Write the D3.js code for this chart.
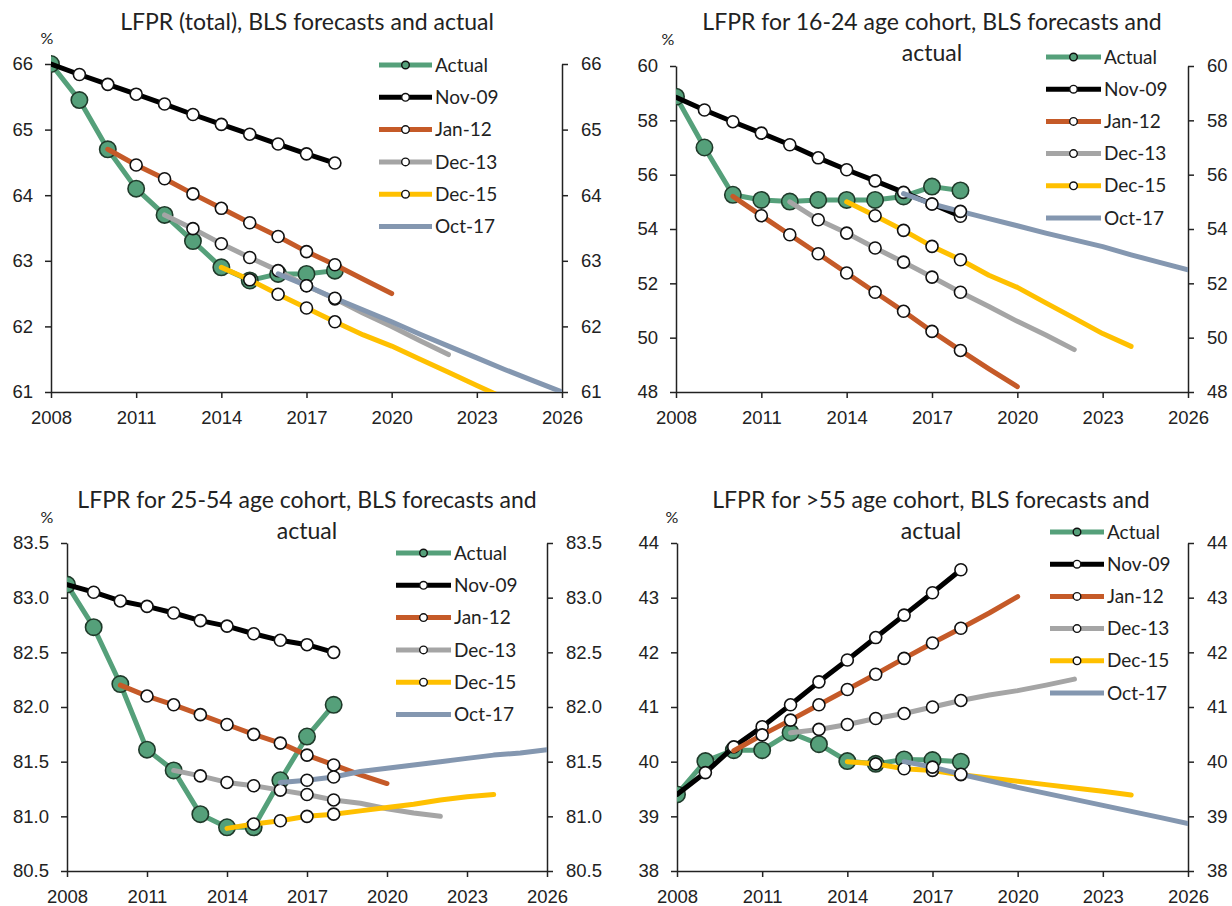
<!DOCTYPE html>
<html>
<head>
<meta charset="utf-8">
<script src="https://cdn.jsdelivr.net/npm/d3@7"></script>
<style>
  body { margin: 0; background: #fff; }
  svg { font-family: Lato, "Open Sans", sans-serif; }
  .tick text { fill: #222; }
</style>
</head>
<body>
<svg id="chart" width="1232" height="906"></svg>
<script>
// series order, start year of each series, colours
const seriesNames = ["Actual", "Nov-09", "Jan-12", "Dec-13", "Dec-15", "Oct-17"];
const seriesStart = [2008, 2008, 2010, 2012, 2014, 2016];
const seriesColors = ["#55a07a", "#000000", "#c55a28", "#a5a5a5", "#ffc000", "#8497b0"];
const lastMarkerYear = 2018;
const yearTicks = [2008, 2011, 2014, 2017, 2020, 2023, 2026];

// LFPR total
const totalActual = [66.0, 65.45, 64.7, 64.1, 63.7, 63.3, 62.9, 62.7, 62.8, 62.8, 62.85];
const totalNov09 = [66.0, 65.84, 65.69, 65.54, 65.39, 65.23, 65.08, 64.93, 64.78, 64.63, 64.49];
const totalJan12 = [64.7, 64.46, 64.25, 64.02, 63.8, 63.58, 63.37, 63.14, 62.94, 62.72, 62.5];
const totalDec13 = [63.7, 63.49, 63.26, 63.05, 62.85, 62.62, 62.42, 62.2, 62.0, 61.78, 61.57];
const totalDec15 = [62.9, 62.71, 62.49, 62.28, 62.07, 61.87, 61.7, 61.5, 61.3, 61.1, 60.9];
const totalOct17 = [62.8, 62.62, 62.43, 62.25, 62.07, 61.88, 61.7, 61.52, 61.34, 61.17, 61.0];
const totalTicks = [61, 62, 63, 64, 65, 66];

// 16-24
const y16Actual = [58.87, 57.0, 55.26, 55.07, 55.01, 55.07, 55.07, 55.07, 55.2, 55.56, 55.42];
const y16Nov09 = [58.85, 58.38, 57.95, 57.53, 57.1, 56.62, 56.18, 55.77, 55.35, 54.92, 54.47];
const y16Jan12 = [55.2, 54.49, 53.79, 53.09, 52.38, 51.67, 50.97, 50.23, 49.53, 48.85, 48.2];
const y16Dec13 = [55.0, 54.34, 53.85, 53.3, 52.78, 52.23, 51.67, 51.15, 50.6, 50.1, 49.56];
const y16Dec15 = [55.0, 54.49, 53.95, 53.36, 52.87, 52.3, 51.85, 51.28, 50.72, 50.15, 49.68];
const y16Oct17 = [55.3, 54.92, 54.65, 54.38, 54.12, 53.85, 53.6, 53.35, 53.05, 52.77, 52.5];
const y16Ticks = [48, 50, 52, 54, 56, 58, 60];

// 25-54
const p25Actual = [83.12, 82.73, 82.21, 81.61, 81.42, 81.02, 80.9, 80.9, 81.33, 81.73, 82.02];
const p25Nov09 = [83.12, 83.05, 82.97, 82.92, 82.86, 82.79, 82.74, 82.67, 82.61, 82.57, 82.5];
const p25Jan12 = [82.2, 82.1, 82.02, 81.93, 81.84, 81.75, 81.67, 81.56, 81.47, 81.38, 81.3];
const p25Dec13 = [81.42, 81.37, 81.31, 81.28, 81.24, 81.2, 81.15, 81.12, 81.07, 81.03, 81.0];
const p25Dec15 = [80.89, 80.93, 80.96, 81.0, 81.02, 81.05, 81.08, 81.11, 81.15, 81.18, 81.2];
const p25Oct17 = [81.31, 81.33, 81.36, 81.41, 81.44, 81.47, 81.5, 81.53, 81.56, 81.58, 81.61];
const p25Ticks = [80.5, 81.0, 81.5, 82.0, 82.5, 83.0, 83.5];

// >55
const p55Actual = [39.4, 40.01, 40.21, 40.21, 40.53, 40.32, 40.01, 39.96, 40.04, 40.03, 40.0];
const p55Nov09 = [39.4, 39.8, 40.27, 40.64, 41.04, 41.46, 41.86, 42.27, 42.68, 43.09, 43.51];
const p55Jan12 = [40.2, 40.49, 40.76, 41.04, 41.32, 41.6, 41.89, 42.17, 42.44, 42.72, 43.02];
const p55Dec13 = [40.53, 40.59, 40.68, 40.79, 40.88, 41.0, 41.12, 41.22, 41.3, 41.4, 41.51];
const p55Dec15 = [40.0, 39.96, 39.87, 39.84, 39.76, 39.7, 39.64, 39.58, 39.52, 39.46, 39.39];
const p55Oct17 = [40.0, 39.9, 39.77, 39.65, 39.53, 39.42, 39.31, 39.2, 39.09, 38.98, 38.87];
const p55Ticks = [38, 39, 40, 41, 42, 43, 44];

const panels = [
  { title: ["LFPR (total), BLS forecasts and actual"],
    box: [51, 562, 64, 392], pct: [47, 38], titleX: 307, titleY: 22,
    ticks: totalTicks, fmt: d3.format("d"),
    data: [totalActual, totalNov09, totalJan12, totalDec13, totalDec15, totalOct17],
    legend: [379, 432, 65, 32.3] },
  { title: ["LFPR for 16-24 age cohort, BLS forecasts and", "actual"],
    box: [676, 1188, 66, 392], pct: [668, 39], titleX: 932, titleY: 22,
    ticks: y16Ticks, fmt: d3.format("d"),
    data: [y16Actual, y16Nov09, y16Jan12, y16Dec13, y16Dec15, y16Oct17],
    legend: [1046, 1101, 57, 32.2] },
  { title: ["LFPR for 25-54 age cohort, BLS forecasts and", "actual"],
    box: [67, 547, 543, 871], pct: [47, 517], titleX: 307, titleY: 500,
    ticks: p25Ticks, fmt: d3.format(".1f"),
    data: [p25Actual, p25Nov09, p25Jan12, p25Dec13, p25Dec15, p25Oct17],
    legend: [396, 451, 553, 32.3] },
  { title: ["LFPR for >55 age cohort, BLS forecasts and", "actual"],
    box: [677, 1188, 543, 871], pct: [672, 517], titleX: 931, titleY: 500,
    ticks: p55Ticks, fmt: d3.format("d"),
    data: [p55Actual, p55Nov09, p55Jan12, p55Dec13, p55Dec15, p55Oct17],
    legend: [1050, 1104, 532, 32.2] }
];

const svg = d3.select("#chart");

panels.forEach((p, pi) => {
  const [x0, x1, y0, y1] = p.box;
  const x = d3.scaleLinear().domain([2008, 2026]).range([x0, x1]);
  const y = d3.scaleLinear().domain(d3.extent(p.ticks)).range([y1, y0]);
  const g = svg.append("g");

  g.append("clipPath").attr("id", "clip" + pi)
    .append("rect").attr("x", x0).attr("y", y0 - 20).attr("width", x1 - x0).attr("height", y1 - y0 + 20);

  // title
  g.selectAll(".title").data(p.title).enter().append("text")
    .attr("x", p.titleX).attr("y", (d, i) => p.titleY + i * 31)
    .attr("dy", "0.35em").attr("text-anchor", "middle")
    .attr("font-size", 23).attr("fill", "#222").text(d => d);

  g.append("text").attr("x", p.pct[0]).attr("y", p.pct[1]).attr("dy", "0.35em")
    .attr("text-anchor", "middle").attr("font-size", 16).attr("fill", "#222").text("%");

  // axes
  const styleAxis = sel => {
    sel.select(".domain").attr("stroke", "#222").attr("stroke-width", 1.5);
    sel.selectAll(".tick line").attr("stroke", "#222").attr("stroke-width", 1.5);
    sel.selectAll(".tick text").attr("font-size", 18.5);
  };
  g.append("g").attr("transform", `translate(0,${y1})`)
    .call(d3.axisBottom(x).tickValues(yearTicks).tickFormat(d3.format("d")).tickSize(6).tickSizeOuter(0).tickPadding(13))
    .call(styleAxis);
  g.append("g").attr("transform", `translate(${x0},0)`)
    .call(d3.axisLeft(y).tickValues(p.ticks).tickFormat(p.fmt).tickSize(6).tickSizeOuter(0).tickPadding(12))
    .call(styleAxis);
  g.append("g").attr("transform", `translate(${x1},0)`)
    .call(d3.axisRight(y).tickValues(p.ticks).tickFormat(p.fmt).tickSize(6).tickSizeOuter(0).tickPadding(13))
    .call(styleAxis);

  const line = d3.line().x(d => x(d.year)).y(d => y(d.value));
  const plot = g.append("g").attr("clip-path", `url(#clip${pi})`);

  p.data.forEach((vals, si) => {
    const pts = vals.map((v, i) => ({ year: seriesStart[si] + i, value: v }));
    plot.append("path").datum(pts)
      .attr("d", line).attr("fill", "none")
      .attr("stroke", seriesColors[si]).attr("stroke-width", 5)
      .attr("stroke-linejoin", "round").attr("stroke-linecap", "round");
    const marked = si === 0 ? pts : pts.filter(d => d.year > seriesStart[si] && d.year <= lastMarkerYear);
    plot.selectAll(null).data(marked).enter().append("circle")
      .attr("cx", d => x(d.year)).attr("cy", d => y(d.value))
      .attr("r", si === 0 ? 8.2 : 6)
      .attr("fill", si === 0 ? seriesColors[0] : "#fff")
      .attr("stroke", si === 0 ? "#1f3a2a" : "#111").attr("stroke-width", 1.6);
  });

  // legend
  const [lx0, lx1, ly0, ldy] = p.legend;
  const leg = g.selectAll(".leg").data(seriesNames).enter().append("g")
    .attr("transform", (d, i) => `translate(0,${ly0 + i * ldy})`);
  leg.append("line").attr("x1", lx0).attr("x2", lx1)
    .attr("stroke", (d, i) => seriesColors[i]).attr("stroke-width", 5);
  leg.filter((d, i) => i < 5).append("circle")
    .attr("cx", (lx0 + lx1) / 2).attr("r", 3.8)
    .attr("fill", (d, i) => i === 0 ? seriesColors[0] : "#fff")
    .attr("stroke", "#111").attr("stroke-width", 1.4);
  leg.append("text").attr("x", lx1 + 3).attr("dy", "0.35em")
    .attr("font-size", 19).attr("fill", "#222").text(d => d);
});
</script>
</body>
</html>
